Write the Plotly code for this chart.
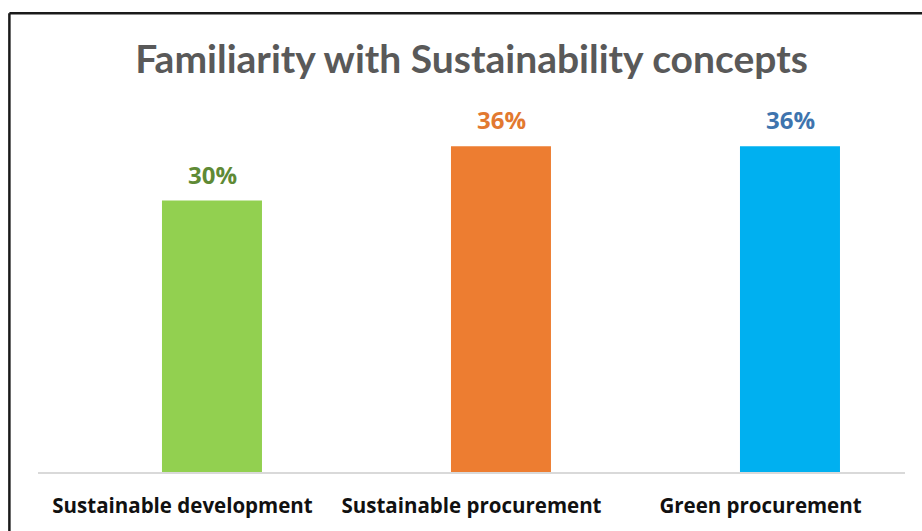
import plotly.graph_objects as go

categories = ["Sustainable development", "Sustainable procurement", "Green procurement"]
values = [30, 36, 36]
value_labels = ["30%", "36%", "36%"]
bar_colors = ["#92D050", "#ED7D31", "#00B0F0"]
label_colors = ["#5F8A35", "#E27930", "#3E74AE"]

TITLE_FONT = "Lato, 'Open Sans', sans-serif"
BODY_FONT = "'Open Sans', 'Noto Sans', sans-serif"

fig = go.Figure()
fig.add_trace(go.Bar(
    x=categories,
    y=values,
    marker=dict(color=bar_colors, line=dict(width=0)),
    width=0.346,
    offset=-0.071,
    hoverinfo="skip",
))

# value labels above each bar, centred over the shifted bars
for cat, val, txt, col in zip(categories, values, value_labels, label_colors):
    fig.add_annotation(
        x=cat, y=val, xref="x", yref="y",
        text=f"<b>{txt}</b>", showarrow=False,
        xanchor="center", yanchor="bottom",
        xshift=29.5, yshift=8,
        font=dict(family=BODY_FONT, size=24, color=col),
    )

# chart-area frame (top and left edges)
fig.add_shape(type="line", xref="paper", yref="paper",
              x0=-0.033, x1=1.02, y0=1.267, y1=1.267,
              line=dict(color="#1a1a1a", width=2.5))
fig.add_shape(type="line", xref="paper", yref="paper",
              x0=-0.033, x1=-0.033, y0=1.267, y1=-0.2,
              line=dict(color="#1a1a1a", width=2.5))

fig.update_layout(
    width=922, height=531,
    margin=dict(l=38, r=17, t=110, b=57),
    paper_bgcolor="white", plot_bgcolor="white",
    showlegend=False,
    title=dict(
        text="<b>Familiarity with Sustainability concepts</b>",
        xref="paper", x=0.5, xanchor="center", y=0.888, yanchor="middle",
        font=dict(family=TITLE_FONT, size=39, color="#595959"),
    ),
    xaxis=dict(
        range=[-0.5, 2.5],
        showgrid=False, zeroline=False,
        showline=True, linecolor="#D9D9D9", linewidth=2,
        ticks="", tickfont=dict(family=BODY_FONT, size=20.5, color="#111111"),
        ticklabelstandoff=14,
    ),
    yaxis=dict(
        range=[0, 40], visible=False, showgrid=False, zeroline=False,
    ),
)

fig.update_xaxes(tickprefix="<b>", ticksuffix="</b>")

fig.write_html("out.html")
